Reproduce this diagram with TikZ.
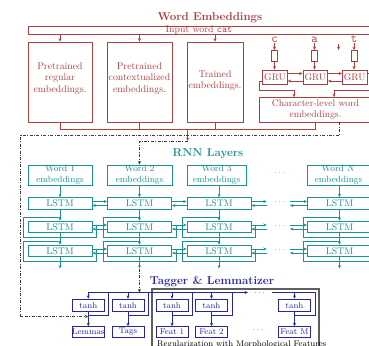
\documentclass[tikz,border=0pt]{standalone}
\usetikzlibrary{arrows.meta,calc}
\definecolor{embred}{RGB}{172,62,62}
\definecolor{rnnteal}{RGB}{28,146,146}
\definecolor{tagblue}{RGB}{38,38,160}
\definecolor{reggray}{RGB}{95,95,95}
\definecolor{linkgray}{RGB}{60,60,60}
\begin{document}
\begin{tikzpicture}[x=1pt,y=1pt,
  tip/.style={-{Stealth[length=3.4pt,width=3pt]}},
  titlefont/.style={font=\fontsize{11.5}{13}\selectfont\bfseries},
  embline/.style={draw=embred,line width=0.7pt},
  embbox/.style={embline,inner sep=0pt,text=embred,align=center,font=\fontsize{9.6}{11.5}\selectfont},
  embtxt/.style={inner sep=0pt,text=embred,align=center,font=\fontsize{9.8}{11.6}\selectfont},
  rnnline/.style={draw=rnnteal,line width=0.75pt},
  rnnbox/.style={draw=rnnteal,line width=0.9pt,inner sep=0pt,text=rnnteal,align=center,font=\fontsize{9}{11.2}\selectfont},
  lstmbox/.style={rnnbox,minimum width=64,minimum height=11.6,font=\fontsize{9.7}{11}\selectfont},
  tagline/.style={draw=tagblue,line width=0.75pt},
  tagbox/.style={draw=tagblue,line width=1pt,inner sep=0pt,text=tagblue,minimum width=32,font=\fontsize{8.4}{10}\selectfont},
  dashdot/.style={draw=linkgray,line width=0.7pt,dash pattern=on 3pt off 1.5pt on 0.8pt off 1.5pt},
  dotsnode/.style={inner sep=0pt,font=\fontsize{9}{10}\selectfont}]
\useasboundingbox (0,0) rectangle (369,-345);
\clip (0,0) rectangle (369,-345);

% ---------------- Word embeddings ----------------
\node[titlefont,text=embred] (wetitle) at (210,-18) {Word Embeddings};
\node[embbox,minimum width=342,minimum height=8] (inp) at (199,-30) {};
\node[embtxt] (inptxt) at (199,-29.6) {Input word \texttt{cat}};

\node[embbox,minimum width=64,minimum height=80] (b1) at (60,-82) {};
\node[embtxt] (b1txt) at ([yshift=3.5]b1.center) {Pretrained\\regular\\embeddings.};
\node[embbox,minimum width=65,minimum height=80] (b2) at (139.5,-82) {};
\node[embtxt] (b2txt) at ([yshift=3.5]b2.center) {Pretrained\\contextualized\\embeddings.};
\node[embbox,minimum width=56,minimum height=80] (b3) at (215,-82) {};
\node[embtxt] (b3txt) at ([yshift=1.5]b3.center) {Trained\\embeddings.};

\foreach \b in {b1,b2,b3}
  \draw[embline,tip] (inp.south -| \b.north) -- (\b.north);

% characters of the word and the character-level GRU
\foreach \c/\x/\n in {c/274.5/1,a/314.5/2,t/354/3}{
  \node[inner sep=1pt,text=embred,font=\fontsize{12.5}{13}\ttfamily,anchor=base] (ch\n) at (\x,-42) {\c};
  \node[embbox,minimum width=6,minimum height=11] (sb\n) at (\x,-56) {};
  \draw[embline,tip] (ch\n.south) -- (sb\n.north);
}
\coordinate (sa0) at (338.5,-44.5);
\coordinate (sa1) at (338.5,-50);
\draw[embline,tip] (sa0) -- (sa1);

\node[embbox,minimum width=24.6,minimum height=14] (g1) at (275,-77) {GRU};
\node[embbox,minimum width=24.6,minimum height=14] (g2) at (315.3,-77) {GRU};
\node[embbox,minimum width=24.6,minimum height=14] (g3) at (354.7,-77) {GRU};
\foreach \n in {1,2,3}
  \draw[embline,tip] (sb\n.south) -- (sb\n.south |- g\n.north);
\draw[embline,tip] ([yshift=3.5]g1.east) -- ([yshift=3.5]g2.west);
\draw[embline,tip] ([yshift=3.5]g2.east) -- ([yshift=3.5]g3.west);
\draw[embline,tip] ([yshift=-4]g2.west) -- ([yshift=-4]g1.east);
\draw[embline,tip] ([yshift=-4]g3.west) -- ([yshift=-4]g2.east);

\node[embbox,minimum width=113,minimum height=24.5] (cb) at (315.5,-109.75) {Character-level word\\embeddings.};

\coordinate (glc) at (259,-81);
\coordinate (gl) at (294,-90.7);
\draw[embline,tip] ([yshift=-4]g1.west) -- (glc) |- (gl) -- (gl |- cb.north);
\coordinate (grc) at (382,-73.5);
\coordinate (gr) at (334,-90.7);
\draw[embline,tip] ([yshift=3.5]g3.east) -- (grc) |- (gr) -- (gr |- cb.north);

% concatenation of all embeddings
\coordinate (m) at (187.7,-129.3);
\coordinate (mt) at (187.7,-141);
\foreach \b in {b1,b2,b3,cb}
  \draw[embline] (\b.south) |- (m);
\draw[embline,tip] (m) -- (mt);

% ---------------- RNN layers ----------------
\node[titlefont,text=rnnteal] (rnntitle) at (208,-154) {RNN Layers};
\node[rnnbox,minimum width=64,minimum height=20] (w1) at (60,-175) {Word 1\\embeddings};
\node[rnnbox,minimum width=65,minimum height=20] (w2) at (139.5,-175) {Word 2\\embeddings};
\node[rnnbox,minimum width=59,minimum height=20] (w3) at (216.5,-175) {Word 3\\embeddings};
\node[rnnbox,minimum width=62,minimum height=20] (wn) at (338.5,-175) {Word $N$\\embeddings};
\node[dotsnode,text=rnnteal] (wd) at (280,-173.5) {$\cdots$};

\foreach \r/\y in {1/203.5,2/227,3/251}{
  \node[lstmbox] (L1\r) at (60,-\y) {LSTM};
  \node[lstmbox] (L2\r) at (139.5,-\y) {LSTM};
  \node[lstmbox] (L3\r) at (219,-\y) {LSTM};
  \node[lstmbox] (Ln\r) at (339.5,-\y) {LSTM};
  \node[dotsnode,text=rnnteal] (ld\r) at (280,-\y+1) {$\cdots$};
  \coordinate (pa\r) at (266.7,-\y);
  \coordinate (pb\r) at (290,-\y);
  \draw[rnnline,tip] ([yshift=2]L1\r.east) -- ([yshift=2]L2\r.west);
  \draw[rnnline,tip] ([yshift=-2]L2\r.west) -- ([yshift=-2]L1\r.east);
  \draw[rnnline,tip] ([yshift=2]L2\r.east) -- ([yshift=2]L3\r.west);
  \draw[rnnline,tip] ([yshift=-2]L3\r.west) -- ([yshift=-2]L2\r.east);
  \draw[rnnline,tip] ([yshift=2]L3\r.east) -- ([yshift=2]pa\r);
  \draw[rnnline,tip] ([yshift=-2]pa\r) -- ([yshift=-2]L3\r.east);
  \draw[rnnline,tip] ([yshift=2]pb\r) -- ([yshift=2]Ln\r.west);
  \draw[rnnline,tip] ([yshift=-2]Ln\r.west) -- ([yshift=-2]pb\r);
}

% residual connections around the upper layers
\foreach \c in {1,2,3,n}{
  \foreach \r in {2,3}{
    \draw[rnnline] ([yshift=3.5]L\c\r.north) -| ([xshift=-4,yshift=-4]L\c\r.south west)
      -| ([xshift=4,yshift=2]L\c\r.east);
  }
}

\draw[rnnline,tip] (w1.south) -- (L11.north);
\draw[rnnline,tip] (w2.south) -- (L21.north);
\draw[rnnline,tip] (L31.north |- w3.south) -- (L31.north);
\draw[rnnline,tip] (Ln1.north |- wn.south) -- (Ln1.north);
\foreach \c in {1,2,3,n}{
  \draw[rnnline,tip] (L\c1.south) -- (L\c2.north);
  \draw[rnnline,tip] (L\c2.south) -- (L\c3.north);
  \coordinate (lo\c) at ([yshift=-11.3]L\c3.south);
  \draw[rnnline,tip] (L\c3.south) -- (lo\c);
}

% ---------------- Tagger and lemmatizer ----------------
\node[titlefont,text=tagblue] (tagtitle) at (212,-281.5) {Tagger \& Lemmatizer};
\node[draw=reggray,line width=1.1pt,inner sep=0pt,minimum width=167,minimum height=80] (reg) at (235.5,-329) {};
\node[anchor=base west,inner sep=0pt,font=\fontsize{8.3}{10}\selectfont] (regtxt) at (157,-346) {Regularization with Morphological Features};

\coordinate (bus) at (0,-292.5);
\foreach \i/\x/\lab in {1/88.3/Lemmas,2/128/Tags,3/172/Feat 1,4/211.5/Feat 2,5/294.5/Feat M}{
  \node[tagbox,minimum height=12.5] (t\i) at (\x,-305.5) {tanh};
  \node[tagbox,minimum height=10.6] (y\i) at (\x,-332) {\lab};
  \draw[tagline,tip] (t\i.north |- bus) -- (t\i.north);
  \draw[tagline,tip] (t\i.south) -- (y\i.north);
  \path ([xshift=4,yshift=-3.5]t\i.south east) coordinate (tr\i);
}
\coordinate (busend) at (248,-292.5);
\coordinate (busr) at (272,-292.5);
\draw[tagline,tip] (t1.north |- bus) -- (busend);
\node[dotsnode,text=tagblue] (bd) at (259.5,-293) {$\cdots$};
\node[dotsnode,text=tagblue] (fd) at (258,-330) {$\cdots$};
\foreach \i in {1,2,3,4}
  \draw[tagline] (tr\i |- bus) -- (tr\i) -- (tr\i -| t\i.south);
\draw[tagline] (busr) -| (tr5) -- (tr5 -| t5.south);

% ---------------- skip links between the parts ----------------
\coordinate (lj) at (88.3,-316.5);
\coordinate (dl) at (20.7,-135.3);
\path (cb.south) ++(23.8,0) coordinate (d0);
\draw[dashdot,tip] (d0) |- (dl) |- (lj);
\draw[dashdot,tip] (mt) -| (w2.north);
\draw[dashdot,tip] (lo2) -- (lo2 |- bus);
\end{tikzpicture}
\end{document}
